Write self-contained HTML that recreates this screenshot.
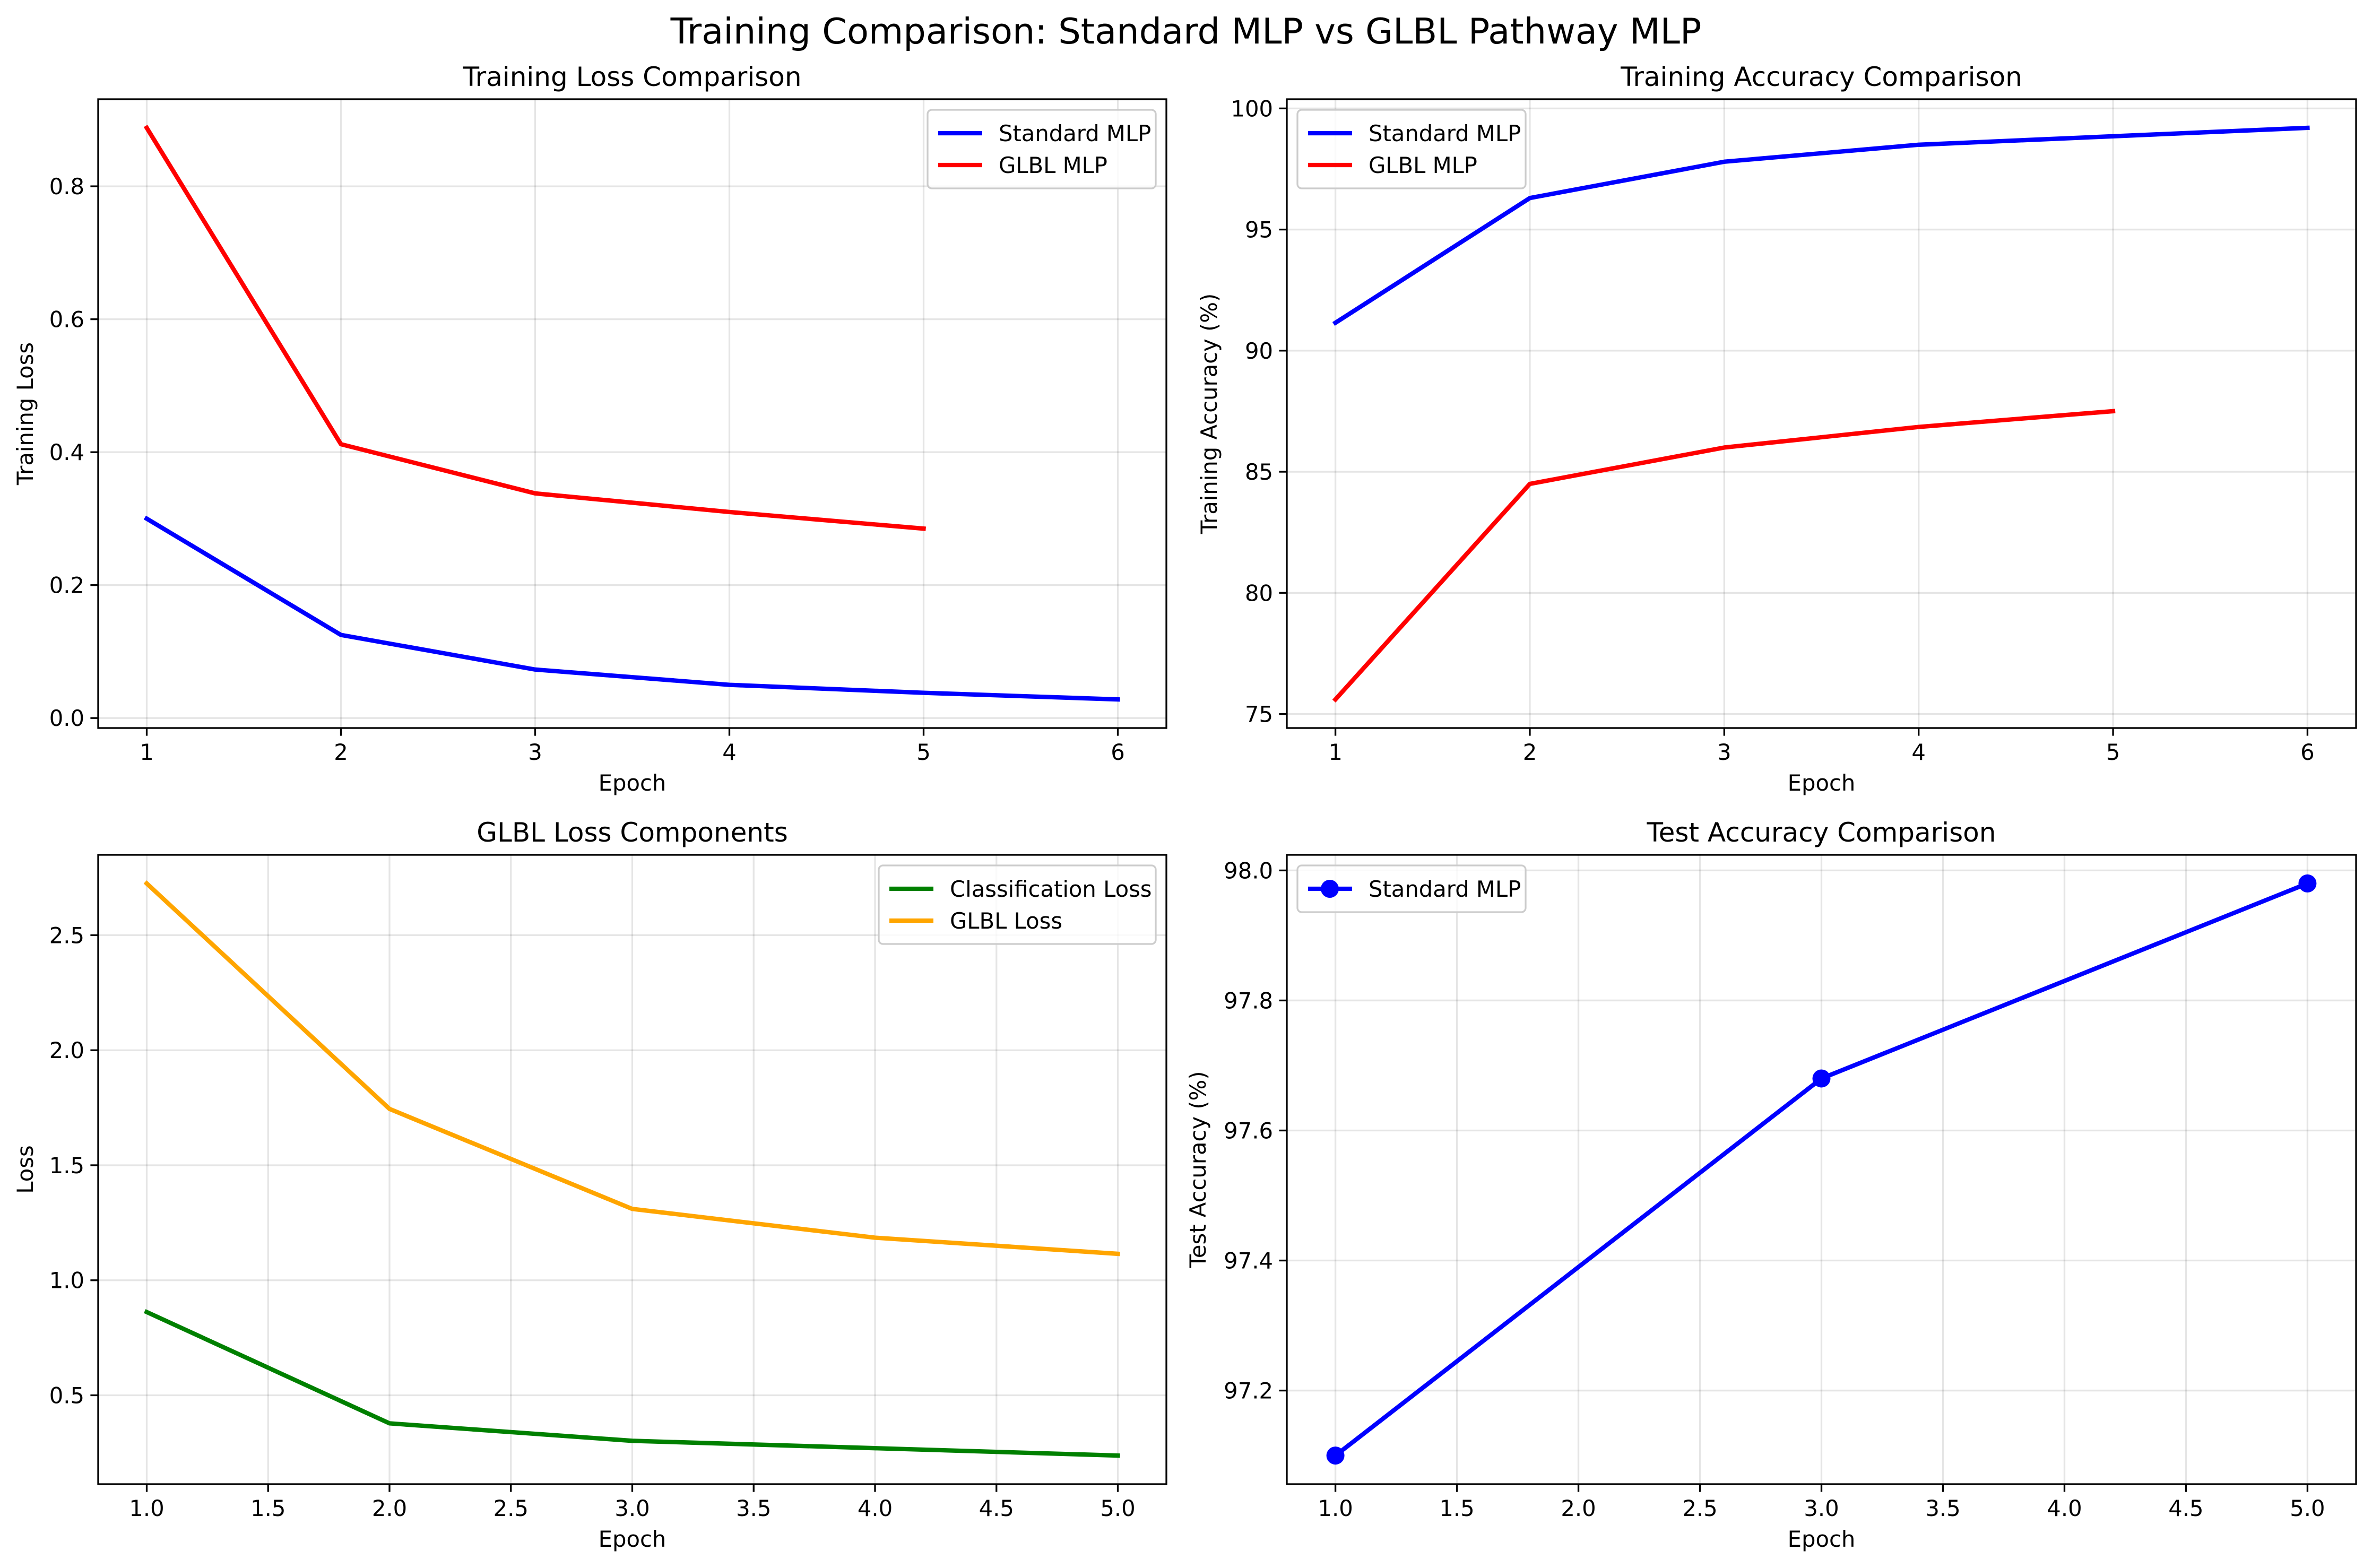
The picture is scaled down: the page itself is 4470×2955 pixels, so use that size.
<!DOCTYPE html>
<html><head><meta charset="utf-8">
<style>
html,body{margin:0;padding:0;background:#fff;}
svg{display:block;}
text{font-family:"DejaVu Sans","Liberation Sans",sans-serif;fill:#000;}
</style></head>
<body>
<svg id="fig" width="4470" height="2955" viewBox="0 0 4470 2955" xmlns="http://www.w3.org/2000/svg">
<rect width="4470" height="2955" fill="#fff"/>
<text x="2235" y="82" text-anchor="middle" font-size="67">Training Comparison: Standard MLP vs GLBL Pathway MLP</text>
</svg>
<script>
// ---- Data ----
const lossEpochsStd = [1, 2, 3, 4, 5, 6];
const lossEpochsGlbl = [1, 2, 3, 4, 5];
const trainLossStd = [0.300, 0.125, 0.073, 0.050, 0.038, 0.028];
const trainLossGlbl = [0.888, 0.412, 0.338, 0.310, 0.285];
const trainAccStd = [91.15, 96.3, 97.8, 98.5, 98.85, 99.2];
const trainAccGlbl = [75.6, 84.5, 86.0, 86.85, 87.5];
const compEpochs = [1, 2, 3, 4, 5];
const classLoss = [0.862, 0.378, 0.302, 0.270, 0.238];
const glblLoss = [2.725, 1.745, 1.310, 1.185, 1.115];
const testEpochs = [1, 3, 5];
const testAccStd = [97.10, 97.68, 97.98];

const tlXTicks = [1, 2, 3, 4, 5, 6];
const tlYTicks = [0.0, 0.2, 0.4, 0.6, 0.8];
const trYTicks = [75, 80, 85, 90, 95, 100];
const blXTicks = [1.0, 1.5, 2.0, 2.5, 3.0, 3.5, 4.0, 4.5, 5.0];
const blYTicks = [0.5, 1.0, 1.5, 2.0, 2.5];
const brYTicks = [97.2, 97.4, 97.6, 97.8, 98.0];

const NS = "http://www.w3.org/2000/svg";
const svg = document.getElementById('fig');
function mk(tag, attrs, parent) {
  const e = document.createElementNS(NS, tag);
  for (const k in attrs) e.setAttribute(k, attrs[k]);
  (parent || svg).appendChild(e);
  return e;
}
function extent(arrs) {
  let lo = Infinity, hi = -Infinity;
  arrs.forEach(a => a.forEach(v => { lo = Math.min(lo, v); hi = Math.max(hi, v); }));
  const m = (hi - lo) * 0.05;
  return [lo - m, hi + m];
}

function panel(cfg) {
  const g = mk('g', {});
  
  
  const {L, R, T, B} = cfg.box;
  const [x0, x1] = extent(cfg.series.map(s => s.x));
  const [y0, y1] = extent(cfg.series.map(s => s.y));
  const sx = v => L + (v - x0) / (x1 - x0) * (R - L);
  const sy = v => B - (v - y0) / (y1 - y0) * (B - T);
  cfg.xticks.forEach(t => {
    const l = mk('line', {x1: sx(t), x2: sx(t), y1: T, y2: B, stroke: '#000', 'stroke-opacity': 0.1, 'stroke-width': 3.3}, g);
    
    
  });
  cfg.yticks.forEach(t => {
    const l = mk('line', {x1: L, x2: R, y1: sy(t), y2: sy(t), stroke: '#000', 'stroke-opacity': 0.1, 'stroke-width': 3.3}, g);
    
    
  });
  cfg.series.forEach(s => {
    const pts = s.x.map((v, i) => sx(v).toFixed(1) + ',' + sy(s.y[i]).toFixed(1)).join(' ');
    const p = mk('polyline', {points: pts, fill: 'none', stroke: s.color, 'stroke-width': 8.3, 'stroke-linejoin': 'round', 'stroke-linecap': 'square'}, g);
    
    
    if (s.marker) {
      s.x.forEach((v, i) => {
        const c = mk('circle', {cx: sx(v), cy: sy(s.y[i]), r: 17, fill: s.color}, g);
        
        
      });
    }
  });
  const fr = mk('rect', {x: L, y: T, width: R - L, height: B - T, fill: 'none', stroke: '#000', 'stroke-width': 3.3}, g);
  
  
  cfg.xticks.forEach(t => {
    mk('line', {x1: sx(t), x2: sx(t), y1: B, y2: B + 14.6, stroke: '#000', 'stroke-width': 3.3}, g);
    const tx = mk('text', {x: sx(t), y: B + 60, 'text-anchor': 'middle', 'font-size': 41.7}, g);
    tx.textContent = cfg.xfmt(t);
    
    
  });
  cfg.yticks.forEach(t => {
    mk('line', {x1: L, x2: L - 14.6, y1: sy(t), y2: sy(t), stroke: '#000', 'stroke-width': 3.3}, g);
    const ty = mk('text', {x: L - 26, y: sy(t) + 15, 'text-anchor': 'end', 'font-size': 41.7}, g);
    ty.textContent = cfg.yfmt(t);
    
    
  });
  const ti = mk('text', {x: (L + R) / 2, y: T - 25, 'text-anchor': 'middle', 'font-size': 50}, g);
  ti.textContent = cfg.title;
  
  
  const xl = mk('text', {x: (L + R) / 2, y: B + 118, 'text-anchor': 'middle', 'font-size': 41.7}, g);
  xl.textContent = 'Epoch';
  
  
  const yl = mk('text', {x: 0, y: 0, 'text-anchor': 'middle', 'font-size': 41.7, transform: `translate(${cfg.ylabX},${(T + B) / 2}) rotate(-90)`}, g);
  yl.textContent = cfg.ylabel;
  
  
  const lg = mk('g', {}, g);
  
  
  const lw = cfg.legendW, lh = 28 + cfg.series.length * 60;
  const lx = cfg.legendRight ? R - 20 - lw : L + 20;
  const ly = T + 20;
  mk('rect', {x: lx, y: ly, width: lw, height: lh, rx: 8, fill: '#fff', 'fill-opacity': 0.8, stroke: '#ccc', 'stroke-width': 3.3}, lg);
  cfg.series.forEach((s, i) => {
    const yy = ly + 44 + i * 60;
    mk('line', {x1: lx + 20, x2: lx + 103, y1: yy, y2: yy, stroke: s.color, 'stroke-width': 8.3}, lg);
    if (s.marker) mk('circle', {cx: lx + 61, cy: yy, r: 17, fill: s.color}, lg);
    const t = mk('text', {x: lx + 134, y: yy + 15, 'font-size': 41.7}, lg);
    t.textContent = s.label;
    
    
  });
}

const f0 = v => String(v);
const f1 = v => v.toFixed(1);

panel({name: 'training-loss-panel', box: {L: 185, R: 2198, T: 187, B: 1372},
  title: 'Training Loss Comparison', ylabel: 'Training Loss', ylabX: 62,
  xticks: tlXTicks, yticks: tlYTicks, xfmt: f0, yfmt: f1, legendRight: true, legendW: 430,
  series: [
    {key: 'standard-mlp', label: 'Standard MLP', color: '#0000ff', x: lossEpochsStd, y: trainLossStd},
    {key: 'glbl-mlp', label: 'GLBL MLP', color: '#ff0000', x: lossEpochsGlbl, y: trainLossGlbl}
  ]});

panel({name: 'training-accuracy-panel', box: {L: 2425, R: 4440, T: 187, B: 1372},
  title: 'Training Accuracy Comparison', ylabel: 'Training Accuracy (%)', ylabX: 2293,
  xticks: tlXTicks, yticks: trYTicks, xfmt: f0, yfmt: f0, legendRight: false, legendW: 430,
  series: [
    {key: 'standard-mlp', label: 'Standard MLP', color: '#0000ff', x: lossEpochsStd, y: trainAccStd},
    {key: 'glbl-mlp', label: 'GLBL MLP', color: '#ff0000', x: lossEpochsGlbl, y: trainAccGlbl}
  ]});

panel({name: 'glbl-loss-components-panel', box: {L: 185, R: 2198, T: 1611, B: 2797},
  title: 'GLBL Loss Components', ylabel: 'Loss', ylabX: 62,
  xticks: blXTicks, yticks: blYTicks, xfmt: f1, yfmt: f1, legendRight: true, legendW: 522,
  series: [
    {key: 'classification-loss', label: 'Classification Loss', color: '#008000', x: compEpochs, y: classLoss},
    {key: 'glbl-loss', label: 'GLBL Loss', color: '#ffa500', x: compEpochs, y: glblLoss}
  ]});

panel({name: 'test-accuracy-panel', box: {L: 2425, R: 4440, T: 1611, B: 2797},
  title: 'Test Accuracy Comparison', ylabel: 'Test Accuracy (%)', ylabX: 2272,
  xticks: blXTicks, yticks: brYTicks, xfmt: f1, yfmt: f1, legendRight: false, legendW: 430,
  series: [
    {key: 'standard-mlp', label: 'Standard MLP', color: '#0000ff', x: testEpochs, y: testAccStd, marker: true}
  ]});
</script>
</body></html>
